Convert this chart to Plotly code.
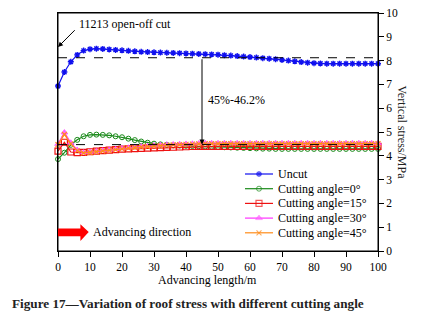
import plotly.graph_objects as go

# ---------------- data ----------------
advance_m = list(range(0, 101, 2))

uncut = [6.93, 7.52, 7.95, 8.24, 8.42, 8.48, 8.50, 8.49, 8.47, 8.45,
         8.43, 8.41, 8.39, 8.37, 8.36, 8.35, 8.34, 8.33, 8.32, 8.31,
         8.30, 8.29, 8.28, 8.27, 8.26, 8.25, 8.23, 8.21, 8.19, 8.17,
         8.15, 8.13, 8.10, 8.08, 8.06, 8.03, 8.00, 7.97, 7.94, 7.91,
         7.89, 7.88, 7.87, 7.87, 7.87, 7.87, 7.87, 7.87, 7.87, 7.87, 7.87]

angle_0 = [3.86, 4.13, 4.46, 4.67, 4.82, 4.88, 4.89, 4.88, 4.86, 4.82,
           4.78, 4.72, 4.66, 4.60, 4.55, 4.51, 4.48, 4.46, 4.44, 4.43,
           4.42, 4.41, 4.40, 4.39, 4.38, 4.37, 4.36, 4.35, 4.34, 4.33,
           4.32, 4.31, 4.30, 4.30, 4.29, 4.29, 4.29, 4.29, 4.29, 4.29,
           4.29, 4.29, 4.29, 4.29, 4.29, 4.29, 4.29, 4.29, 4.29, 4.29, 4.29]

angle_15 = [4.20, 4.57, 4.16, 4.13, 4.14, 4.17, 4.20, 4.22, 4.24, 4.26,
            4.28, 4.29, 4.30, 4.31, 4.32, 4.33, 4.34, 4.35, 4.36, 4.37,
            4.38, 4.39, 4.40, 4.40, 4.40, 4.40, 4.40, 4.40, 4.40, 4.40,
            4.40, 4.40, 4.40, 4.40, 4.40, 4.40, 4.40, 4.40, 4.40, 4.40,
            4.40, 4.40, 4.40, 4.40, 4.40, 4.40, 4.40, 4.40, 4.40, 4.40, 4.40]

angle_30 = [4.50, 4.98, 4.55, 4.25, 4.14, 4.16, 4.19, 4.22, 4.25, 4.28,
            4.31, 4.34, 4.37, 4.39, 4.41, 4.43, 4.45, 4.47, 4.48, 4.49,
            4.50, 4.51, 4.52, 4.53, 4.53, 4.53, 4.53, 4.53, 4.53, 4.53,
            4.53, 4.53, 4.53, 4.53, 4.53, 4.53, 4.53, 4.53, 4.53, 4.53,
            4.53, 4.53, 4.53, 4.53, 4.53, 4.53, 4.53, 4.53, 4.53, 4.53, 4.53]

angle_45 = [4.47, 4.90, 4.50, 4.22, 4.12, 4.14, 4.17, 4.20, 4.23, 4.26,
            4.29, 4.32, 4.35, 4.37, 4.39, 4.41, 4.43, 4.45, 4.46, 4.47,
            4.48, 4.49, 4.50, 4.51, 4.51, 4.51, 4.51, 4.51, 4.51, 4.51,
            4.51, 4.51, 4.51, 4.51, 4.51, 4.51, 4.51, 4.51, 4.51, 4.51,
            4.51, 4.51, 4.51, 4.51, 4.51, 4.51, 4.51, 4.51, 4.51, 4.51, 4.51]

series_names = ["Uncut", "Cutting angle=0°", "Cutting angle=15°",
                "Cutting angle=30°", "Cutting angle=45°"]

upper_ref = 8.12
lower_ref = 4.47
x_ticks = list(range(0, 101, 10))
y_ticks = list(range(0, 11, 1))

FONT = "Liberation Serif"

# The page body adds an 8 px offset, so the figure is 8 px smaller and margins are shifted.
W, H = 414, 313
ML, MR, MT, MB = 50, 44, 5, 70
PW, PH = W - ML - MR, H - MT - MB
OFF = 8


def px_x(px):  # window pixel -> paper x
    return (px - OFF - ML) / PW


def px_y(py):  # window pixel -> paper y
    return (H - MB + OFF - py) / PH


styles = [
    ("#1010ee", dict(symbol="asterisk", size=5, line=dict(color="#1010ee", width=1.4))),
    ("#1a8a1a", dict(symbol="circle-open", size=5, line=dict(color="#1a8a1a", width=1))),
    ("#ee1111", dict(symbol="square-open", size=6, line=dict(color="#ee1111", width=1.2))),
    ("#ff33ff", dict(symbol="triangle-up", size=6, color="#ff66ff", line=dict(color="#ff33ff", width=0.5))),
    ("#ff8c1a", dict(symbol="x-thin-open", size=5, line=dict(color="#ff8c1a", width=1.2))),
]
values = [uncut, angle_0, angle_15, angle_30, angle_45]

fig = go.Figure()
for name, ys, (col, mk) in zip(series_names, values, styles):
    fig.add_trace(go.Scatter(x=advance_m, y=ys, name=name, mode="lines+markers",
                             line=dict(color=col, width=1.2), marker=mk, cliponaxis=False,
                             showlegend=False))

# ---- legend (compact, drawn on an overlay axis in paper units) ----
leg_y0, leg_dy = 174, 14.7
for i, (name, (col, mk)) in enumerate(zip(series_names, styles)):
    yy = px_y(leg_y0 + i * leg_dy)
    fig.add_trace(go.Scatter(x=[px_x(245), px_x(259), px_x(273)], y=[yy, yy, yy],
                             xaxis="x2", yaxis="y2", mode="lines+markers",
                             line=dict(color=col, width=1.2),
                             marker=dict(mk, size=[0, mk["size"], 0]),
                             showlegend=False, hoverinfo="skip", cliponaxis=False))
    fig.add_annotation(xref="paper", yref="paper", x=px_x(275.5), y=yy, text=name,
                       showarrow=False, xanchor="left", yanchor="middle",
                       font=dict(family=FONT, size=12, color="black"))

# plot frame
fig.add_shape(type="rect", xref="paper", yref="paper", x0=0, x1=1, y0=0, y1=1,
              line=dict(color="black", width=1), fillcolor="rgba(0,0,0,0)", layer="above")

# reference dashed lines
fig.add_shape(type="line", xref="x", yref="y", x0=0, x1=100, y0=upper_ref, y1=upper_ref,
              line=dict(color="black", width=1, dash="dash"))
fig.add_shape(type="line", xref="x", yref="y", x0=0, x1=100, y0=lower_ref, y1=lower_ref,
              line=dict(color="black", width=1, dash="dash"))

# vertical arrow 45%-46.2%
fig.add_annotation(x=45, y=lower_ref, ax=45, ay=upper_ref, xref="x", yref="y", axref="x", ayref="y",
                   showarrow=True, arrowhead=2, arrowsize=1, arrowwidth=1, arrowcolor="black", text="")
fig.add_annotation(x=46.2, y=6.36, xref="x", yref="y", text="45%-46.2%", showarrow=False,
                   xanchor="left", yanchor="middle", font=dict(family=FONT, size=12, color="black"))

# open-off cut annotation
fig.add_annotation(x=0, y=8.57, ax=5.7, ay=9.34, xref="x", yref="y", axref="x", ayref="y",
                   showarrow=True, arrowhead=2, arrowsize=1, arrowwidth=1, arrowcolor="black", text="")
fig.add_annotation(x=6.0, y=9.52, xref="x", yref="y", text="11213 open-off cut", showarrow=False,
                   xanchor="left", yanchor="middle", font=dict(family=FONT, size=12, color="black"))

# advancing direction red arrow
fig.add_shape(type="path", xref="x", yref="y",
              path="M 0 0.95 L 7.0 0.95 L 7.0 1.12 L 9.6 0.80 L 7.0 0.42 L 7.0 0.62 L 0 0.62 Z",
              fillcolor="#ff0000", line=dict(width=0))
fig.add_annotation(x=10.4, y=0.80, xref="x", yref="y", text="Advancing direction", showarrow=False,
                   xanchor="left", yanchor="middle", font=dict(family=FONT, size=12, color="black"))

# axis titles & caption
fig.add_annotation(xref="x", x=46.8, yref="paper", y=px_y(279.5), text="Advancing length/m",
                   showarrow=False, xanchor="center", yanchor="middle",
                   font=dict(family=FONT, size=12, color="black"))
fig.add_annotation(xref="paper", yref="y", x=px_x(401.5), y=5, text="Vertical stress/MPa", textangle=90,
                   showarrow=False, xanchor="center", yanchor="middle",
                   font=dict(family=FONT, size=12, color="#222"))
fig.add_annotation(xref="paper", yref="paper", x=px_x(10), y=px_y(303),
                   text="<b>Figure 17—Variation of roof stress with different cutting angle</b>",
                   showarrow=False, xanchor="left", yanchor="middle",
                   font=dict(family=FONT, size=13.2, color="#222"))

axis_common = dict(showline=True, linecolor="black", linewidth=1, mirror=True, ticks="outside",
                   ticklen=5, tickcolor="black", showgrid=False, zeroline=False, automargin=False,
                   ticklabeloverflow="allow",
                   tickfont=dict(family=FONT, size=11.5, color="black"))

fig.update_layout(
    width=W, height=H,
    margin=dict(l=ML, r=MR, t=MT, b=MB, autoexpand=False),
    paper_bgcolor="white", plot_bgcolor="white",
    font=dict(family=FONT, size=12, color="black"),
    showlegend=False,
    xaxis=dict(range=[0, 100], tickvals=x_ticks, **axis_common),
    yaxis=dict(range=[0, 10], tickvals=y_ticks, side="right", **axis_common),
    xaxis2=dict(range=[0, 1], overlaying="x", visible=False, automargin=False),
    yaxis2=dict(range=[0, 1], overlaying="y", visible=False, automargin=False),
)

fig.write_html("out.html")
